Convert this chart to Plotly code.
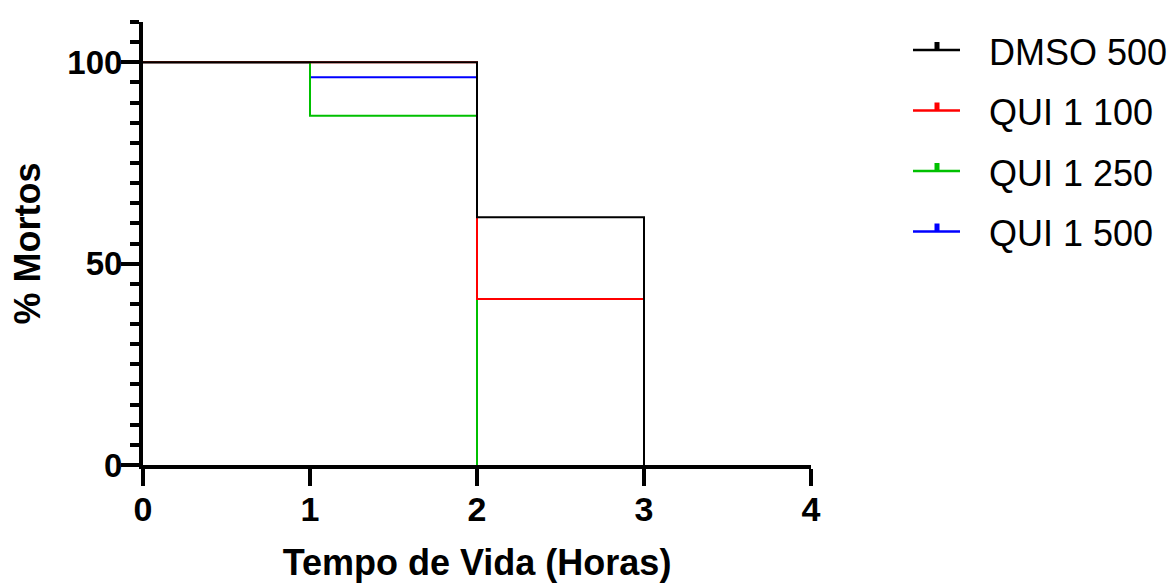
import plotly.graph_objects as go

# Survival-style step data (time in hours, % value)
series_names = ["DMSO 500", "QUI 1 100", "QUI 1 250", "QUI 1 500"]
series_colors = ["#000000", "#FF0000", "#00C000", "#0000FF"]
dmso_500_t = [0, 2, 3]
dmso_500_v = [100, 61.5, 0]
qui_100_t = [0, 2, 3]
qui_100_v = [100, 41.2, 0]
qui_250_t = [0, 1, 2]
qui_250_v = [100, 86.7, 0]
qui_500_t = [0, 1, 2]
qui_500_v = [100, 96.3, 0]

x_ticks = [0, 1, 2, 3, 4]
y_ticks = [0, 50, 100]

FONT = "Liberation Sans, Arial, sans-serif"
W, H = 1173, 583
L, R, T, B = 143, 362, 22, 118
PW, PH = W - L - R, H - T - B

series = [
    (dmso_500_t, dmso_500_v),
    (qui_100_t, qui_100_v),
    (qui_250_t, qui_250_v),
    (qui_500_t, qui_500_v),
]

fig = go.Figure()
# draw the last series first so DMSO ends up on top
for i in reversed(range(len(series))):
    t, v = series[i]
    fig.add_trace(go.Scatter(
        x=t, y=v, mode="lines", line=dict(color=series_colors[i], width=2, shape="hv"),
        name=series_names[i], showlegend=False, cliponaxis=False,
    ))

# custom legend: line with a small censor tick, plus label
def px_x(p):
    return (p - L) / PW

def px_y(p):
    return (H - B - p) / PH

shapes = []
annotations = []
leg_top, leg_gap = 50, 60.5
for i, (name, col) in enumerate(zip(series_names, series_colors)):
    yc = leg_top + i * leg_gap
    shapes.append(dict(type="line", xref="paper", yref="paper",
                       x0=px_x(913), x1=px_x(960), y0=px_y(yc), y1=px_y(yc),
                       line=dict(color=col, width=2.5)))
    shapes.append(dict(type="rect", xref="paper", yref="paper",
                       x0=px_x(934.5), x1=px_x(939.5), y0=px_y(yc), y1=px_y(yc - 8),
                       line=dict(width=0), fillcolor=col))
    annotations.append(dict(text=name, xref="paper", yref="paper",
                            x=px_x(987), y=px_y(yc + 2), xanchor="left", yanchor="middle",
                            showarrow=False, font=dict(family=FONT, size=36, color="black")))

fig.update_layout(
    width=W, height=H,
    margin=dict(l=L, r=R, t=T, b=B, pad=0),
    paper_bgcolor="white", plot_bgcolor="white",
    font=dict(family=FONT, color="black"),
    shapes=shapes, annotations=annotations,
    showlegend=False,
)
fig.update_xaxes(
    range=[0, 4], tickvals=x_ticks, showgrid=False, zeroline=False, automargin=False,
    showline=True, linecolor="black", linewidth=4,
    ticks="outside", ticklen=17, tickwidth=4, tickcolor="black",
    tickfont=dict(family=FONT, size=34, color="black", weight="bold"),
    ticklabelstandoff=-6,
    title=dict(text="Tempo de Vida (Horas)", standoff=32,
               font=dict(family=FONT, size=36, color="black", weight="bold")),
)
fig.update_yaxes(
    range=[0, 110], tickvals=y_ticks, showgrid=False, zeroline=False, automargin=False,
    showline=True, linecolor="black", linewidth=4,
    ticks="outside", ticklen=18, tickwidth=4, tickcolor="black",
    minor=dict(dtick=5, tick0=0, ticks="outside", ticklen=9, tickwidth=4,
               tickcolor="black", showgrid=False),
    tickfont=dict(family=FONT, size=33, color="black", weight="bold"),
    ticklabelstandoff=-8,
    title=dict(text="% Mortos", standoff=17,
               font=dict(family=FONT, size=36, color="black", weight="bold")),
)

fig.write_html("out.html")
